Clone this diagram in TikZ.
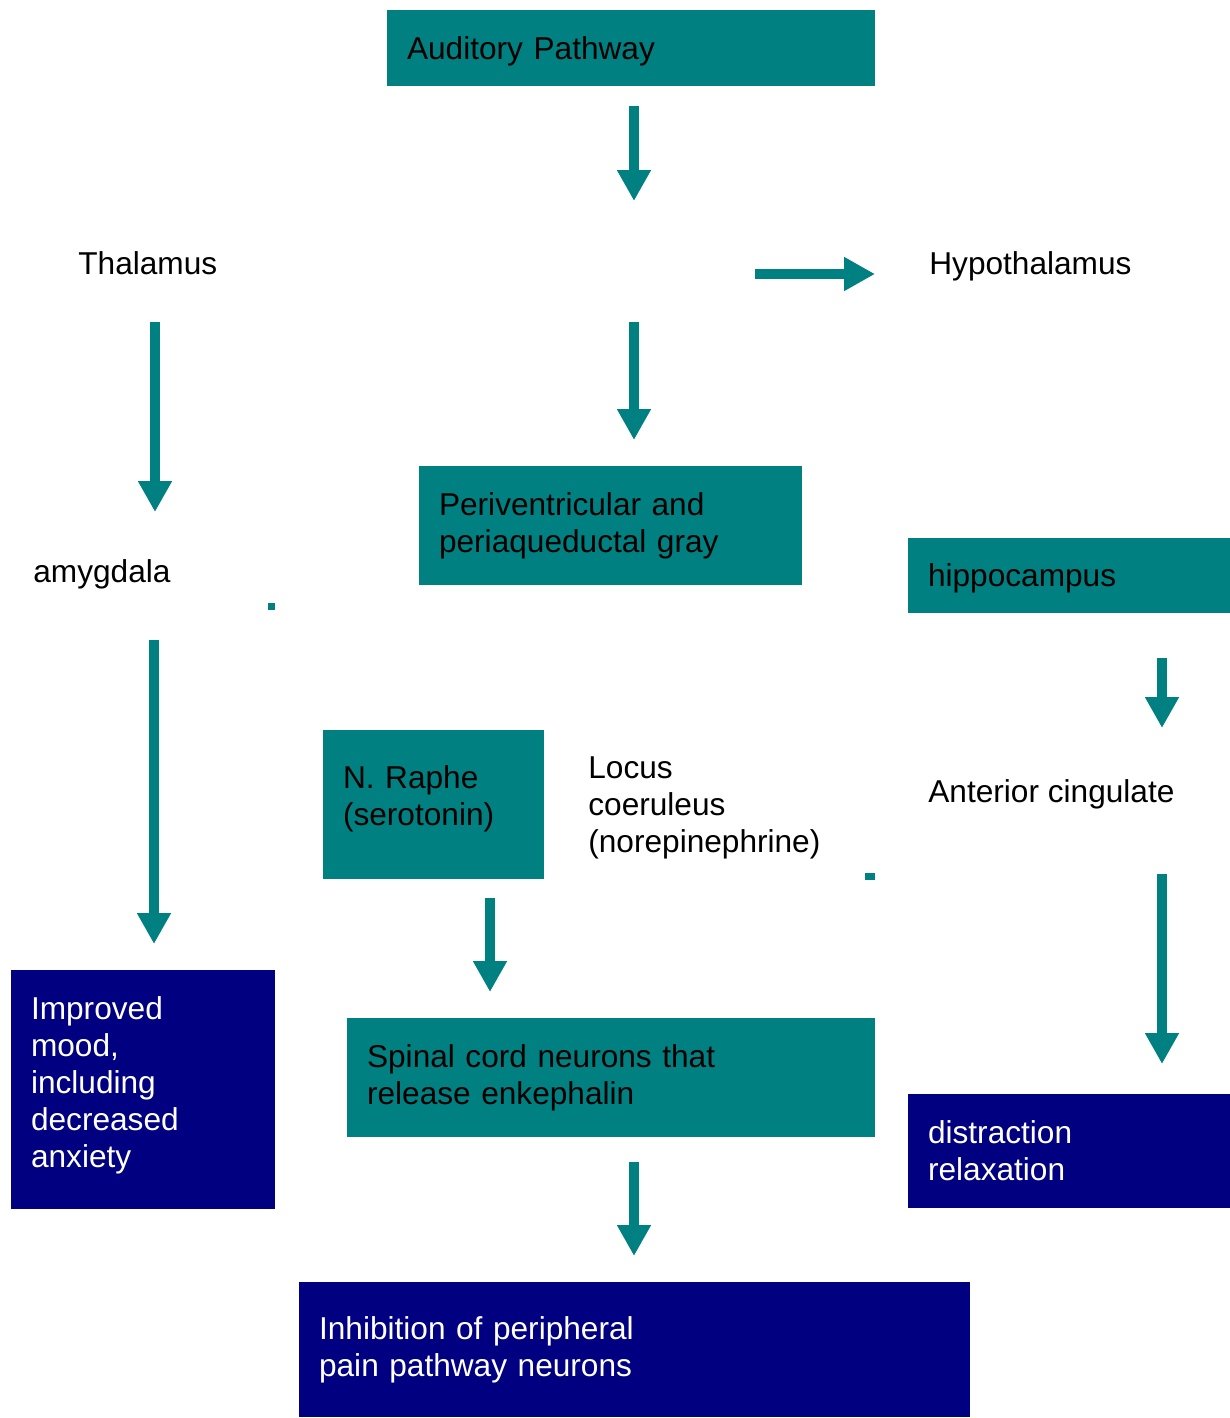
\documentclass[tikz,border=0pt]{standalone}
\usepackage{fontspec}
\setmainfont{Liberation Sans}
\usetikzlibrary{
    arrows.meta,
    positioning,
    calc
}
\definecolor{tealcol}{HTML}{008080}
\definecolor{navycol}{HTML}{000080}

\begin{document}
\begin{tikzpicture}[
    x=0.02cm, y=-0.02cm,
    font=\fontsize{18}{21}\selectfont,
    pbox/.style={
        rectangle, inner xsep=0.4cm, inner ysep=0pt,
        align=left, anchor=center
    },
    tealbox/.style={pbox, fill=tealcol, text=black},
    navybox/.style={pbox, fill=navycol, text=white},
    lbl/.style={anchor=base west, inner sep=0pt, align=left},
    arr/.style={-{Triangle[length=0.62cm, width=0.64cm]},
        line width=0.2cm, draw=tealcol},
]
\useasboundingbox (0,0) rectangle (1230,1418);

% ── Boxes ──
\node[tealbox, minimum width=9.76cm, minimum height=1.52cm, text width=8.96cm,
      text depth=0pt]
    (baud) at (631,48) {Auditory Pathway};
\node[tealbox, minimum width=7.66cm, minimum height=2.38cm, text width=6.86cm]
    (bperi) at (610.5,525.5) {Periventricular and\\periaqueductal gray};
\node[tealbox, minimum width=6.44cm, minimum height=1.5cm, text width=5.64cm,
      text depth=0pt]
    (bhippo) at (1069,575.5) {hippocampus};
\node[tealbox, minimum width=4.42cm, minimum height=2.98cm, text width=3.62cm,
      text depth=1.11cm]
    (braphe) at (433.5,804.5) {N. Raphe\\(serotonin)};
\node[tealbox, minimum width=10.56cm, minimum height=2.38cm, text width=9.76cm]
    (bspinal) at (611,1077.5) {Spinal cord neurons that\\release enkephalin};

\node[navybox, minimum width=5.28cm, minimum height=4.78cm, text width=4.48cm,
      text depth=3.26cm]
    (bmood) at (143,1089.5) {Improved\\mood,\\including\\decreased\\anxiety};
\node[navybox, minimum width=6.44cm, minimum height=2.28cm, text width=5.64cm]
    (bdistr) at (1069,1151) {distraction\\relaxation};
\node[navybox, minimum width=13.42cm, minimum height=2.7cm, text width=12.62cm]
    (binhib) at (634.5,1349.5) {Inhibition of peripheral\\pain pathway neurons};

% ── Plain labels ──
\node[lbl] (lthal)  at (78,274)  {Thalamus};
\node[lbl] (lhypo)  at (929,274) {Hypothalamus};
\node[lbl] (lamyg)  at (33,582)  {amygdala};
\node[lbl] (llocus) at (588,852) {Locus\\coeruleus\\(norepinephrine)};
\node[lbl] (lcing)  at (928,802) {Anterior cingulate};

% small marks
\fill[tealcol] (268,603) rectangle ++(7,7);
\fill[tealcol] (865,873) rectangle ++(10,7);

% ── Arrow ends ──
\coordinate (a1s) at (634,106);  \coordinate (a1e) at (634,201);
\coordinate (a2s) at (755,274);  \coordinate (a2e) at (875,274);
\coordinate (a3s) at (155,322);  \coordinate (a3e) at (155,512);
\coordinate (a4s) at (634,322);  \coordinate (a4e) at (634,440);
\coordinate (a5s) at (1162,658); \coordinate (a5e) at (1162,728);
\coordinate (a6s) at (154,640);  \coordinate (a6e) at (154,944);
\coordinate (a7s) at (490,898);  \coordinate (a7e) at (490,992);
\coordinate (a8s) at (1162,874); \coordinate (a8e) at (1162,1064);
\coordinate (a9s) at (634,1162); \coordinate (a9e) at (634,1256);

% ── Arrows ──
\draw[arr] (a1s) -- (a1e);
\draw[arr] (a2s) -- (a2e);
\draw[arr] (a3s) -- (a3e);
\draw[arr] (a4s) -- (a4e);
\draw[arr] (a5s) -- (a5e);
\draw[arr] (a6s) -- (a6e);
\draw[arr] (a7s) -- (a7e);
\draw[arr] (a8s) -- (a8e);
\draw[arr] (a9s) -- (a9e);

\end{tikzpicture}
\end{document}
